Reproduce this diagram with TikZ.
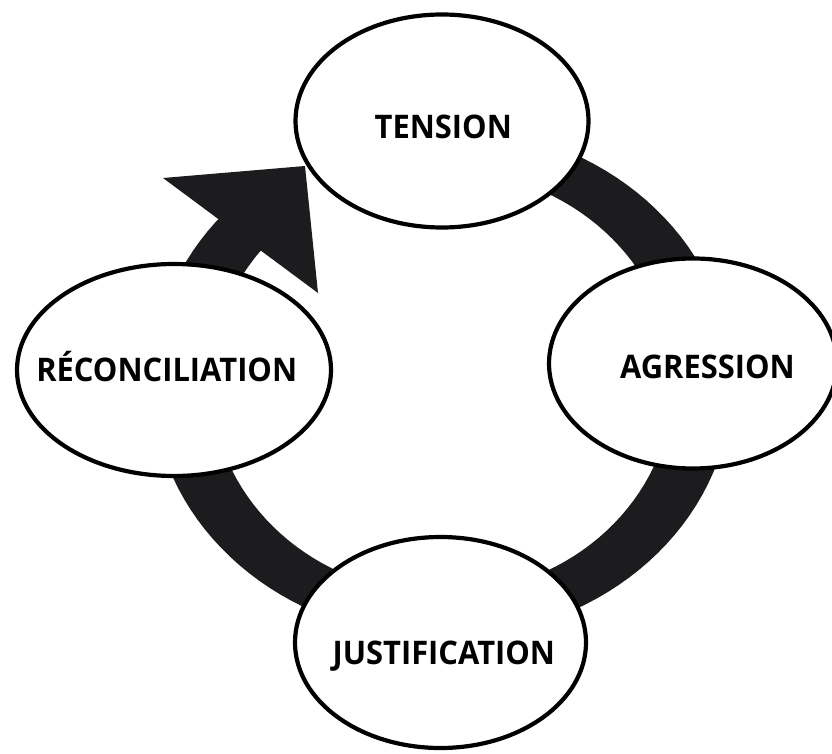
\documentclass[tikz,border=0pt]{standalone}
\usepackage{fontspec}
\usepackage{graphicx}
\setmainfont{Open Sans}
\usetikzlibrary{shapes.geometric}
\definecolor{ink}{RGB}{28,27,29}
\newcommand{\sx}{0.95}
\begin{document}
\begin{tikzpicture}[x=1pt,y=-1pt,
  bubble/.style={ellipse, draw=black, line width=4.2pt, fill=white, inner sep=0pt},
  lbl/.style={font=\fontsize{32.5}{36}\selectfont\bfseries, inner sep=0pt, anchor=base}]
\useasboundingbox (0,0) rectangle (832,754);
\clip (0,0) rectangle (832,754);
% cycle ring (annulus sector)
\fill[ink] plot[domain=-90:224, samples=120] ({442+290*cos(\x)},{382+256*sin(\x)})
  -- plot[domain=224:-90, samples=120] ({442+231*cos(\x)},{382+212*sin(\x)}) -- cycle;
% arrow head
\coordinate (hb1) at (163,178);
\coordinate (htip) at (305,166);
\coordinate (hb2) at (318,293);
\fill[ink] (hb1) -- (htip) -- (hb2) -- cycle;
% ellipses
\node[bubble, minimum width=293pt, minimum height=213pt] (tension) at (442,121) {};
\node[bubble, minimum width=288pt, minimum height=210pt] (agression) at (693,363.5) {};
\node[bubble, minimum width=314pt, minimum height=212pt] (reconc) at (174,370) {};
\node[bubble, minimum width=291pt, minimum height=211pt] (justif) at (440.5,642.5) {};
% labels
\node[lbl] (tensiontxt) at (443.3,138.3) {\scalebox{\sx}[1]{TENSION}};
\node[lbl] (agressiontxt) at (707.5,378.3) {\scalebox{\sx}[1]{AGRESSION}};
\node[lbl] (reconctxt) at (166.7,381.7) {\scalebox{\sx}[1]{RÉCONCILIATION}};
\node[lbl] (justiftxt) at (443.8,664.3) {\scalebox{\sx}[1]{JUSTIFICATION}};
\end{tikzpicture}
\end{document}
